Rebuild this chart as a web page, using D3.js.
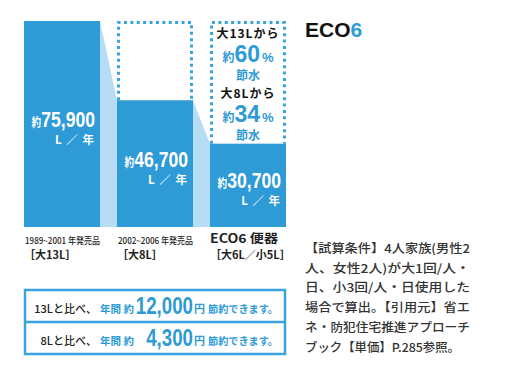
<!DOCTYPE html>
<html>
<head>
<meta charset="utf-8">
<script src="https://cdn.jsdelivr.net/npm/d3@7"></script>
<style>
  body { margin: 0; background: #fff; }
  text { font-family: "Liberation Sans", "Noto Sans CJK JP", sans-serif; }
  .jp { font-family: "Noto Sans CJK JP", sans-serif; }
</style>
</head>
<body>
<svg width="512" height="376"></svg>
<script>
// chart values
var categories = ['1989~2001 年発売品', '2002~2006 年発売品', 'ECO6 便器'];
var subLabels = ['［大13L］', '［大8L］', '［大6L／小5L］'];
var usage = [75900, 46700, 30700];
var reductionRefs = ['大13Lから', '大8Lから'];
var reductions = [60, 34];
var savingRefs = ['13Lと比べ、', '8Lと比べ、'];
var savingAmounts = [12000, 4300];
var noteLines = [
    '【試算条件】4人家族(男性2',
    '人、女性2人)が大1回/人・',
    '日、小3回/人・日使用した',
    '場合で算出。【引用元】省エ',
    'ネ・防犯住宅推進アプローチ',
    'ブック【単価】P.285参照。'
];

var blue = '#2e9ad6';
var light = '#b7ddf4';
var dot = '#3aa3e0';

var svg = d3.select('svg');

var x = d3.scaleBand()
    .domain(categories)
    .range([24, 286])
    .paddingInner(0.183);

var y = d3.scaleLinear()
    .domain([0, d3.max(usage)])
    .range([227, 21]);

var data = categories.map(function(c, i) {
    return {cat: c, sub: subLabels[i], value: usage[i]};
});

// light connectors between bars
var links = svg.append('g');
for (var i = 0; i < data.length - 1; i++) {
    var a = data[i], b = data[i + 1];
    var x0 = x(a.cat) + x.bandwidth(), x1 = x(b.cat);
    links.append('path')
        .attr('fill', light)
        .attr('d', 'M' + x0 + ',' + y(a.value) + 'L' + x1 + ',' + y(b.value) +
            'L' + x1 + ',' + y(0) + 'L' + x0 + ',' + y(0) + 'Z');
}

// bars
svg.selectAll('.bar')
    .data(data)
    .enter()
    .append('rect')
    .attr('class', 'bar')
    .attr('x', function(d) { return x(d.cat); })
    .attr('y', function(d) { return y(d.value); })
    .attr('width', x.bandwidth())
    .attr('height', function(d) { return y(0) - y(d.value); })
    .attr('fill', blue);

// dotted outline up to the old level
data.slice(1).forEach(function(d) {
    var l = x(d.cat) + 1.5, r = x(d.cat) + x.bandwidth() - 1.5;
    var top = y(d3.max(usage)) + 1.5;
    svg.append('path')
        .attr('fill', 'none')
        .attr('stroke', dot)
        .attr('stroke-width', 3)
        .attr('stroke-dasharray', '3,3.4')
        .attr('d', 'M' + l + ',' + y(d.value) + 'L' + l + ',' + top +
            'L' + r + ',' + top + 'L' + r + ',' + y(d.value));
});

// value labels inside bars
var fmt = d3.format(',');
data.forEach(function(d) {
    var right = x(d.cat) + x.bandwidth() - 5;
    var mid = (y(d.value) + y(0)) / 2;
    var t = svg.append('text')
        .attr('transform', 'translate(' + right + ',' + (mid + 3) + ') scale(0.8,1)')
        .attr('text-anchor', 'end')
        .attr('fill', '#fff')
        .attr('font-weight', 'bold');
    t.append('tspan').attr('class', 'jp').attr('font-size', 12).text('約');
    t.append('tspan').attr('font-size', 22).text(fmt(d.value));
    svg.append('text')
        .attr('class', 'jp')
        .attr('x', right)
        .attr('y', mid + 20)
        .attr('text-anchor', 'end')
        .attr('fill', '#fff')
        .attr('font-size', 11.5)
        .attr('font-weight', 'bold')
        .attr('letter-spacing', 1)
        .text('L ／ 年');
});

// category labels
data.forEach(function(d, i) {
    var last = i === data.length - 1;
    svg.append('text')
        .attr('class', 'jp')
        .attr('x', x(d.cat) + (last ? 0 : 1))
        .attr('y', last ? 243 : 244)
        .attr('fill', '#222')
        .attr('font-size', last ? 12.5 : 9)
        .attr('font-weight', last ? 'bold' : 500)
        .attr('textLength', last ? 68 : 75)
        .attr('lengthAdjust', 'spacingAndGlyphs')
        .text(d.cat);
    svg.append('text')
        .attr('class', 'jp')
        .attr('x', x(d.cat))
        .attr('y', 259)
        .attr('fill', '#222')
        .attr('font-size', 11)
        .attr('font-weight', 'bold')
        .text(d.sub);
});

// reduction notes in the ECO6 column
var cx = x(categories[2]) + x.bandwidth() / 2;
reductions.forEach(function(r, i) {
    var base = 38 + i * 60;
    svg.append('text')
        .attr('class', 'jp')
        .attr('x', cx)
        .attr('y', base)
        .attr('text-anchor', 'middle')
        .attr('fill', '#111')
        .attr('font-size', 12)
        .attr('font-weight', 'bold')
        .attr('letter-spacing', 1)
        .text(reductionRefs[i]);
    var t = svg.append('text')
        .attr('x', cx)
        .attr('y', base + 24)
        .attr('text-anchor', 'middle')
        .attr('fill', blue)
        .attr('font-weight', 'bold');
    t.append('tspan').attr('class', 'jp').attr('font-size', 12).text('約');
    t.append('tspan').attr('font-size', 23).text(r);
    t.append('tspan').attr('font-size', 13).attr('dx', 2).text('%');
    svg.append('text')
        .attr('class', 'jp')
        .attr('x', cx)
        .attr('y', base + 42)
        .attr('text-anchor', 'middle')
        .attr('fill', blue)
        .attr('font-size', 12)
        .attr('font-weight', 'bold')
        .text('節水');
});

// savings box
svg.append('rect')
    .attr('x', 25).attr('y', 290)
    .attr('width', 260).attr('height', 64)
    .attr('fill', 'none')
    .attr('stroke', dot)
    .attr('stroke-width', 2.5);
svg.append('line')
    .attr('x1', 25).attr('x2', 285)
    .attr('y1', 322).attr('y2', 322)
    .attr('stroke', dot)
    .attr('stroke-width', 2.5);

savingAmounts.forEach(function(v, i) {
    var base = 314 + i * 32;
    svg.append('text')
        .attr('class', 'jp')
        .attr('x', 97).attr('y', base - 1)
        .attr('text-anchor', 'end')
        .attr('fill', '#222')
        .attr('font-size', 11)
        .attr('font-weight', 500)
        .text(savingRefs[i]);
    svg.append('text')
        .attr('class', 'jp')
        .attr('x', 100).attr('y', base - 1)
        .attr('fill', blue)
        .attr('font-size', 10.5)
        .attr('font-weight', 'bold')
        .text('年間 約');
    svg.append('text')
        .attr('transform', 'translate(193,' + base + ') scale(0.78,1)')
        .attr('text-anchor', 'end')
        .attr('fill', blue)
        .attr('font-size', 24)
        .attr('font-weight', 'bold')
        .text(fmt(v));
    svg.append('text')
        .attr('class', 'jp')
        .attr('x', 194).attr('y', base - 1)
        .attr('fill', blue)
        .attr('font-size', 11)
        .attr('font-weight', 'bold')
        .text('円');
    svg.append('text')
        .attr('class', 'jp')
        .attr('x', 208).attr('y', base - 1)
        .attr('fill', blue)
        .attr('font-size', 10.5)
        .attr('font-weight', 'bold')
        .attr('textLength', 70)
        .attr('lengthAdjust', 'spacingAndGlyphs')
        .text('節約できます。');
});

// title
var title = svg.append('text')
    .attr('x', 305).attr('y', 37)
    .attr('font-size', 21)
    .attr('font-weight', 'bold');
title.append('tspan').attr('fill', '#111').text('ECO');
title.append('tspan').attr('fill', blue).text('6');

// footnote
svg.selectAll('.note')
    .data(noteLines)
    .enter()
    .append('text')
    .attr('class', 'jp note')
    .attr('x', 305)
    .attr('y', function(d, i) { return 253 + i * 19.7; })
    .attr('fill', '#333')
    .attr('font-size', 12)
    .attr('font-weight', 500)
    .attr('textLength', function(d, i) { return i === noteLines.length - 1 ? 155 : 165; })
    .attr('lengthAdjust', 'spacingAndGlyphs')
    .text(function(d) { return d; });
</script>
</body>
</html>
